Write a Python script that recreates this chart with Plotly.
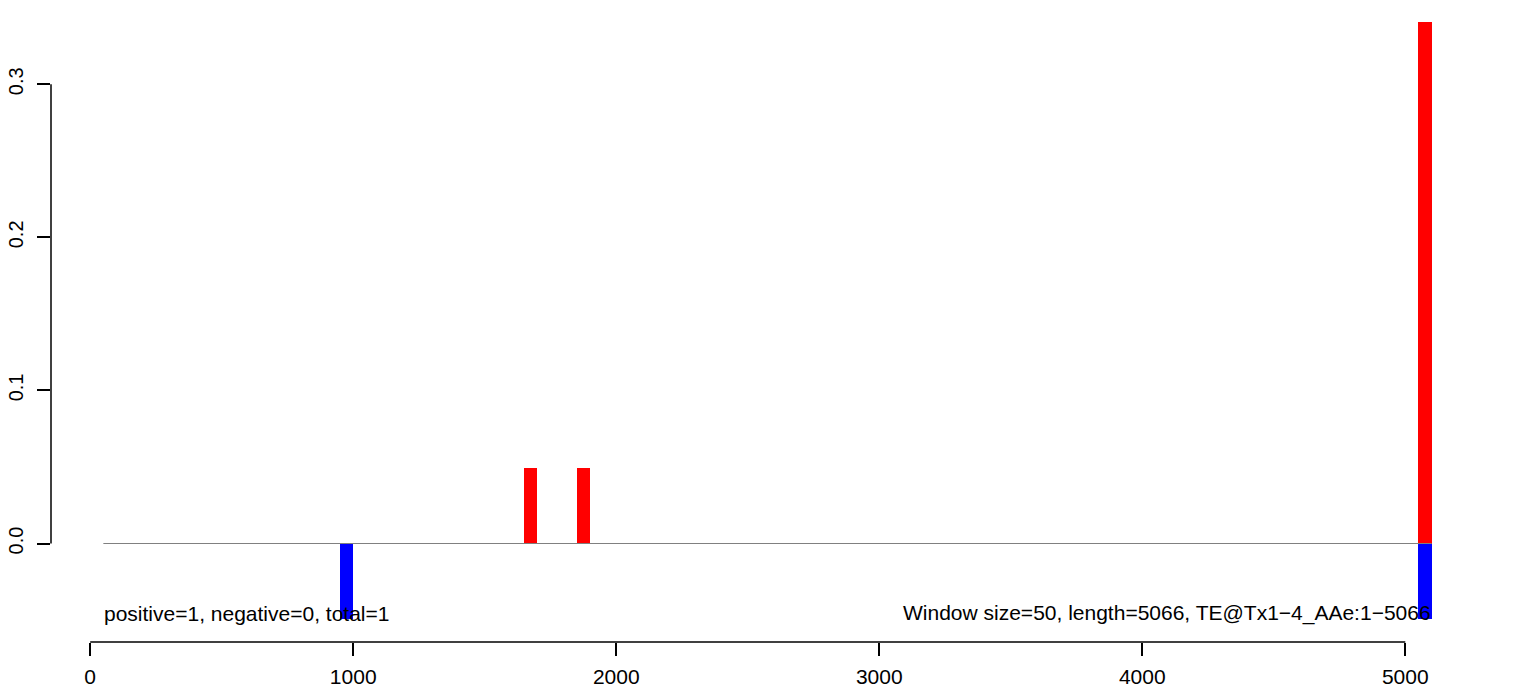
import plotly.graph_objects as go

# ---- data ----
pos_x = [1675, 1875, 5075]
pos_y = [0.049, 0.049, 0.341]
neg_x = [975, 5075]
neg_y = [-0.049, -0.049]
bar_width = 50
zero_line_x = [50, 5100]
zero_line_y = [0, 0]
x_ticks = [0, 1000, 2000, 3000, 4000, 5000]
x_ticktext = ["0", "1000", "2000", "3000", "4000", "5000"]
y_ticks = [0.0, 0.1, 0.2, 0.3]
y_ticktext = ["0.0", "0.1", "0.2", "0.3"]
left_note = "positive=1, negative=0, total=1"
right_note = "Window size=50, length=5066, TE@Tx1\u22124_AAe:1\u22125066"

FONT = "Liberation Sans, Arial, Helvetica, sans-serif"

fig = go.Figure()
fig.add_trace(go.Scatter(x=zero_line_x, y=zero_line_y, mode="lines",
                         line=dict(color="#808080", width=1), hoverinfo="skip",
                         showlegend=False))
fig.add_trace(go.Bar(x=pos_x, y=pos_y, width=[bar_width] * len(pos_x),
                     marker=dict(color="#FF0000", line=dict(width=0)), showlegend=False))
fig.add_trace(go.Bar(x=neg_x, y=neg_y, width=[bar_width] * len(neg_x),
                     marker=dict(color="#0000FF", line=dict(width=0)), showlegend=False))

fig.add_annotation(x=50, y=-0.0457, xref="x", yref="y", text=left_note, showarrow=False,
                   xanchor="left", yanchor="middle", borderpad=0,
                   font=dict(family=FONT, size=21, color="black"))
fig.add_annotation(x=5100, y=-0.0457, xref="x", yref="y", text=right_note, showarrow=False,
                   xanchor="right", yanchor="middle", borderpad=0,
                   font=dict(family=FONT, size=21, color="black"))

# R-style axis lines spanning only the tick range
fig.add_shape(type="line", xref="x", yref="paper", x0=x_ticks[0], x1=x_ticks[-1], y0=0, y1=0,
              line=dict(color="black", width=1.5))
fig.add_shape(type="line", xref="paper", yref="y", x0=0, x1=0, y0=y_ticks[0], y1=y_ticks[-1],
              line=dict(color="black", width=1.5))

fig.update_layout(
    template="none",
    width=1533, height=688,
    margin=dict(l=51, r=53, t=10, b=46, autoexpand=False),
    plot_bgcolor="white", paper_bgcolor="white",
    barmode="overlay", bargap=0,
    font=dict(family=FONT, size=21, color="black"),
    xaxis=dict(range=[-149.04, 5284.0], showgrid=False, zeroline=False, showline=False,
               automargin=False,
               tickmode="array", tickvals=x_ticks, ticktext=x_ticktext,
               ticks="outside", ticklen=13, tickwidth=1.5, tickcolor="black",
               ticklabelstandoff=3,
               tickfont=dict(family=FONT, size=21, color="black")),
    yaxis=dict(range=[-0.06435, 0.34853], showgrid=False, zeroline=False, showline=False,
               automargin=False,
               tickmode="array", tickvals=y_ticks, ticktext=y_ticktext,
               ticks="outside", ticklen=13, tickwidth=1.5, tickcolor="black", tickangle=-90,
               ticklabelstandoff=6,
               tickfont=dict(family=FONT, size=20, color="black")),
)

fig.write_html("out.html",
               config={"displayModeBar": False},
               post_script="document.body.style.margin='0';document.body.style.overflow='hidden';")
